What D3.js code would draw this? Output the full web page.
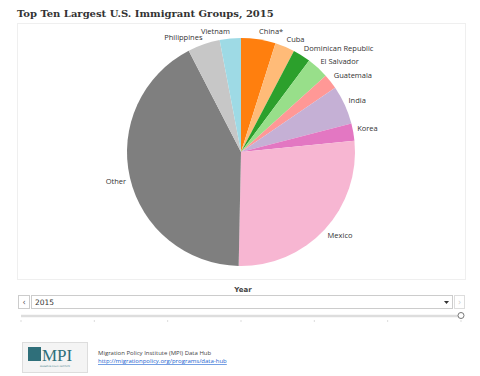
<!DOCTYPE html>
<html>
<head>
<meta charset="utf-8">
<script src="https://cdn.jsdelivr.net/npm/d3@7"></script>
<style>
  html, body { margin: 0; padding: 0; background: #fff; }
  svg { display: block; }
</style>
</head>
<body>
<svg id="chart" width="480" height="376"></svg>
<script>
const categories = ["China*", "Cuba", "Dominican Republic", "El Salvador", "Guatemala", "India", "Korea", "Mexico", "Other", "Philippines", "Vietnam"];
const values = [2118000, 1210674, 1085321, 1352357, 927593, 2389639, 1060019, 11643298, 18219841, 1982389, 1300515];
const colors = ["#ff7f0e", "#ffbb78", "#2ca02c", "#98df8a", "#ff9896", "#c5b0d5", "#e377c2", "#f7b6d2", "#7f7f7f", "#c7c7c7", "#9edae5"];
const yearTicks = ["", "", "", "", "", "", ""];
const selectedYear = "2015";

const svg = d3.select("#chart");

// title
svg.append("text").attr("x", 17).attr("y", 17)
  .attr("font-family", "'DejaVu Serif', serif").attr("font-weight", "bold")
  .attr("font-size", 10).attr("fill", "#333")
  .text("Top Ten Largest U.S. Immigrant Groups, 2015");

// chart frame
svg.append("rect").attr("x", 17.5).attr("y", 23.5).attr("width", 448).attr("height", 256)
  .attr("fill", "none").attr("stroke", "#efefef");

const cx = 241, cy = 152, r = 114;
const g = svg.append("g").attr("transform", `translate(${cx},${cy})`);
const data = categories.map((c, i) => ({ name: c, value: values[i], color: colors[i] }));
const pie = d3.pie().sort(null).value(d => d.value);
const arcs = pie(data);
const arc = d3.arc().innerRadius(0).outerRadius(r);
g.selectAll("path").data(arcs).join("path")
  .attr("d", arc).attr("fill", d => d.data.color);

g.selectAll("text.lbl").data(arcs).join("text").attr("class", "lbl")
  .each(function(d) {
    const a = (d.startAngle + d.endAngle) / 2;
    const x = Math.sin(a) * (r + 4);
    const y = -Math.cos(a) * (r + 5);
    const right = a < Math.PI;
    const top = y < 0;
    d3.select(this).attr("x", x).attr("y", y)
      .attr("dy", top ? "0" : "0.7em")
      .attr("text-anchor", right ? "start" : "end");
  })
  .attr("font-family", "'Open Sans', sans-serif").attr("font-size", 7.5)
  .attr("fill", "#333").text(d => d.data.name);

// Year control
svg.append("text").attr("x", 243).attr("y", 292).attr("text-anchor", "middle")
  .attr("font-family", "'DejaVu Sans', sans-serif").attr("font-weight", "bold")
  .attr("font-size", 7).attr("fill", "#444").text("Year");

svg.append("rect").attr("x", 18.5).attr("y", 295.5).attr("width", 11).attr("height", 13)
  .attr("fill", "#fff").attr("stroke", "#ccc");
svg.append("text").attr("x", 24).attr("y", 305).attr("text-anchor", "middle")
  .attr("font-family", "'DejaVu Sans', sans-serif").attr("font-size", 8).attr("fill", "#555").text("‹");
svg.append("rect").attr("x", 31.5).attr("y", 295.5).attr("width", 421).attr("height", 13)
  .attr("fill", "#fff").attr("stroke", "#ccc");
svg.append("text").attr("x", 35).attr("y", 305)
  .attr("font-family", "'DejaVu Sans', sans-serif").attr("font-size", 7.5).attr("fill", "#333").text(selectedYear);
svg.append("path").attr("d", "M444,301 L449,301 L446.5,304 Z").attr("fill", "#333");
svg.append("rect").attr("x", 454.5).attr("y", 295.5).attr("width", 10).attr("height", 13)
  .attr("fill", "#fff").attr("stroke", "#ddd");
svg.append("text").attr("x", 459.5).attr("y", 305).attr("text-anchor", "middle")
  .attr("font-family", "'DejaVu Sans', sans-serif").attr("font-size", 8).attr("fill", "#ccc").text("›");

// slider
const sx = d3.scalePoint().domain(d3.range(yearTicks.length)).range([21, 461]);
svg.append("line").attr("x1", 21).attr("x2", 461).attr("y1", 316).attr("y2", 316)
  .attr("stroke", "#ddd").attr("stroke-width", 2.5);
svg.selectAll("line.tk").data(d3.range(yearTicks.length)).join("line").attr("class", "tk")
  .attr("x1", d => sx(d)).attr("x2", d => sx(d)).attr("y1", 320).attr("y2", 322)
  .attr("stroke", "#ddd");
svg.append("circle").attr("cx", 461).attr("cy", 315.5).attr("r", 3)
  .attr("fill", "#fff").attr("stroke", "#777");

// logo
svg.append("rect").attr("x", 22.5).attr("y", 342.5).attr("width", 65).attr("height", 30)
  .attr("fill", "#f4f4f4").attr("stroke", "#ddd");
svg.append("rect").attr("x", 28).attr("y", 347).attr("width", 13).attr("height", 14).attr("fill", "#2f6f7a");
svg.append("text").attr("x", 42).attr("y", 361)
  .attr("font-family", "'Liberation Serif', serif").attr("font-size", 17).attr("fill", "#2f6f7a").text("MPI");
svg.append("text").attr("x", 55).attr("y", 367).attr("text-anchor", "middle")
  .attr("font-family", "'DejaVu Sans', sans-serif").attr("font-size", 2).attr("fill", "#2f6f7a")
  .text("MIGRATION POLICY INSTITUTE");

svg.append("text").attr("x", 98).attr("y", 355)
  .attr("font-family", "'Open Sans', sans-serif").attr("font-size", 6).attr("fill", "#444")
  .text("Migration Policy Institute (MPI) Data Hub");
svg.append("text").attr("x", 98).attr("y", 363)
  .attr("font-family", "'Open Sans', sans-serif").attr("font-size", 6).attr("fill", "#1a5fd0")
  .attr("text-decoration", "underline")
  .text("http://migrationpolicy.org/programs/data-hub");
</script>
</body>
</html>
